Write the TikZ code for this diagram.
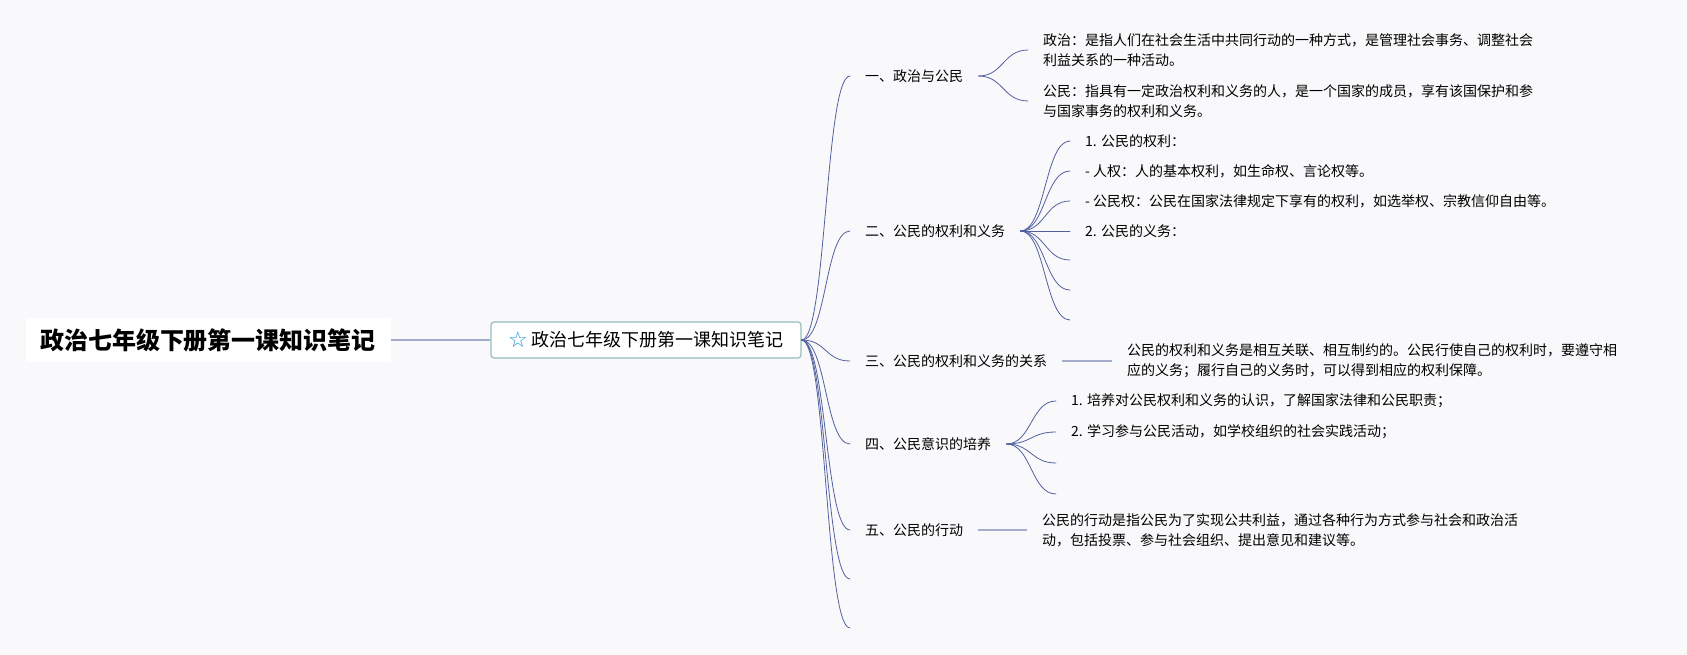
\documentclass[tikz,border=0pt]{standalone}
\usepackage{fontspec}
\setmainfont{Noto Sans CJK SC}
\newfontfamily\symfont{DejaVu Sans}
\usetikzlibrary{positioning}
\definecolor{bgcol}{RGB}{249,249,251}
\definecolor{brcol}{RGB}{82,96,160}
\definecolor{barcol}{RGB}{165,172,205}
\definecolor{boxcol}{RGB}{150,190,184}
\definecolor{starcol}{RGB}{35,150,220}
\begin{document}
\begin{tikzpicture}[x=1pt,y=-1pt,line join=round,line cap=round,
	topic/.style={anchor=west,inner xsep=15pt,inner ysep=2pt,font=\fontsize{14}{20}\selectfont},
	leaf/.style={anchor=west,inner xsep=15pt,inner ysep=2pt,align=left,font=\fontsize{14}{20}\selectfont},
	stub/.style={anchor=west,inner sep=0pt,minimum size=0pt},
	br/.style={draw=brcol,line width=.8pt},
	bar/.style={draw=barcol,line width=2.5pt,line cap=butt}]
	\fill[bgcol] (0,0) rectangle (1687,655);
	\node[fill=white,minimum width=365,minimum height=44,inner sep=0pt,font=\fontsize{24}{24}\selectfont\bfseries] (title) at (208,340) {政治七年级下册第一课知识笔记};
	\node[draw=boxcol,line width=1.2pt,fill=white,rounded corners=3pt,minimum width=310,minimum height=36,inner sep=0pt,font=\fontsize{18}{18}\selectfont] (root) at (646,340) {{\symfont\fontsize{22}{22}\selectfont\textcolor{starcol}{\raisebox{-1pt}{☆}}}\hspace{4pt}政治七年级下册第一课知识笔记};
	\draw[barcol,line width=1.2pt,line cap=butt] (title.east) -- (root.west);
	% first level
	\node[topic] (t1) at (850,76) {一、政治与公民};
	\node[topic] (t2) at (850,231) {二、公民的权利和义务};
	\node[topic] (t3) at (850,361) {三、公民的权利和义务的关系};
	\node[topic] (t4) at (850,444) {四、公民意识的培养};
	\node[topic] (t5) at (850,530) {五、公民的行动};
	\node[stub] (t6) at (850,579) {};
	\node[stub] (t7) at (850,628) {};
	\foreach \i in {1,...,7}\draw[br] (root.east) .. controls +(25,0) and +(-25,0) .. (t\i.west);
	% 一
	\node[leaf] (l11) at (1028,50) {政治：是指人们在社会生活中共同行动的一种方式，是管理社会事务、调整社会\\利益关系的一种活动。};
	\node[leaf] (l12) at (1028,101) {公民：指具有一定政治权利和义务的人，是一个国家的成员，享有该国保护和参\\与国家事务的权利和义务。};
	\foreach \i in {1,2}\draw[br] (t1.east) .. controls +(25,0) and +(-25,0) .. (l1\i.west);
	% 二
	\node[leaf] (l21) at (1070,141) {1. 公民的权利：};
	\node[leaf] (l22) at (1070,171) {- 人权：人的基本权利，如生命权、言论权等。};
	\node[leaf] (l23) at (1070,201) {- 公民权：公民在国家法律规定下享有的权利，如选举权、宗教信仰自由等。};
	\node[leaf] (l24) at (1070,231) {2. 公民的义务：};
	\node[stub] (l25) at (1070,260) {};
	\node[stub] (l26) at (1070,290) {};
	\node[stub] (l27) at (1070,320) {};
	\foreach \i in {1,...,7}\draw[br] (t2.east) .. controls +(25,0) and +(-25,0) .. (l2\i.west);
	% 三
	\node[leaf] (l31) at (1112,361) {公民的权利和义务是相互关联、相互制约的。公民行使自己的权利时，要遵守相\\应的义务；履行自己的义务时，可以得到相应的权利保障。};
	\draw[bar] (t3.east) -- (l31.west);
	% 四
	\node[leaf] (l41) at (1056,401) {1. 培养对公民权利和义务的认识，了解国家法律和公民职责；};
	\node[leaf] (l42) at (1056,432) {2. 学习参与公民活动，如学校组织的社会实践活动；};
	\node[stub] (l43) at (1056,463) {};
	\node[stub] (l44) at (1056,494) {};
	\foreach \i in {1,...,4}\draw[br] (t4.east) .. controls +(25,0) and +(-25,0) .. (l4\i.west);
	% 五
	\node[leaf] (l51) at (1027,530) {公民的行动是指公民为了实现公共利益，通过各种行为方式参与社会和政治活\\动，包括投票、参与社会组织、提出意见和建议等。};
	\draw[bar] (t5.east) -- (l51.west);
\end{tikzpicture}
\end{document}
